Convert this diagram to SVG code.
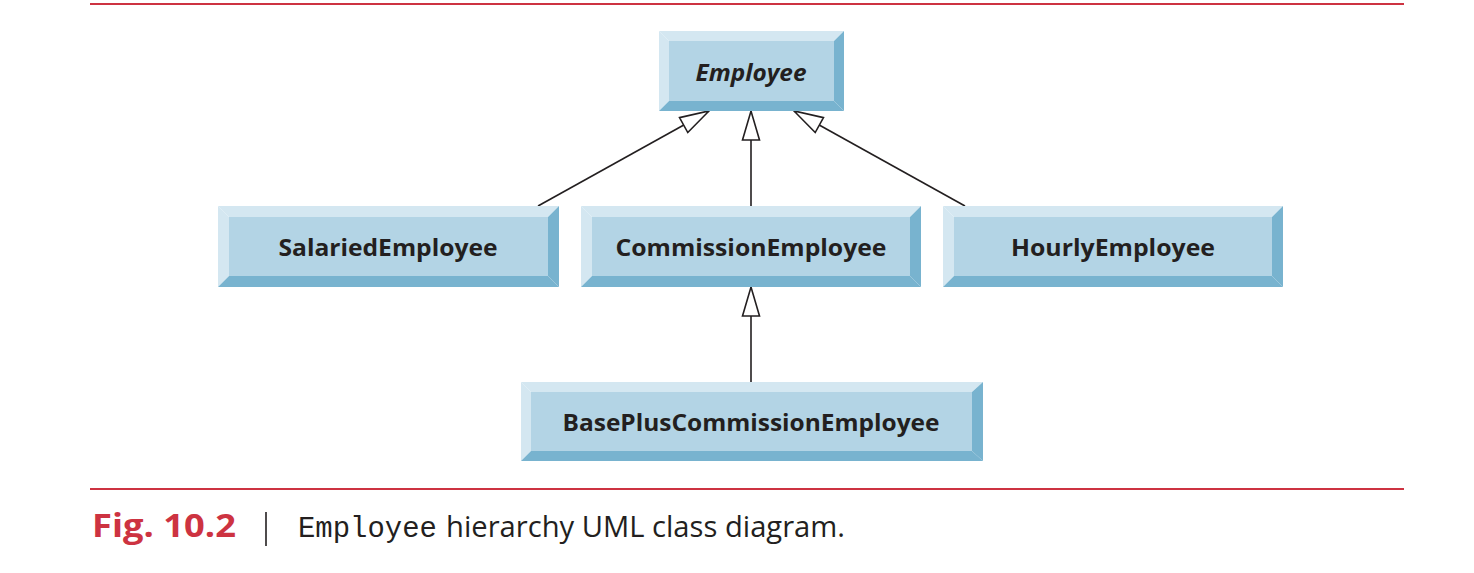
<svg xmlns="http://www.w3.org/2000/svg" width="1474" height="573" viewBox="0 0 1474 573">
<style>
.face{fill:#b3d4e5}
.lt{fill:#d4e7f1}
.dk{fill:#78b3cf}
.lbl{font-family:"Open Sans","Liberation Sans",sans-serif;font-weight:bold;font-size:24px;fill:#231f20;text-anchor:middle}
.conn{stroke:#231f20;stroke-width:1.6;fill:none}
.rule{stroke:#cd3341;stroke-width:2}
</style>
<defs>
<marker id="tri" markerUnits="userSpaceOnUse" markerWidth="34" markerHeight="22" refX="30" refY="10" orient="auto" overflow="visible">
<path d="M1,1.5 L30,10 L1,18.5 Z" fill="#ffffff" stroke="#231f20" stroke-width="1.6" stroke-linejoin="miter"/>
</marker>
</defs>
<rect width="1474" height="573" fill="#ffffff"/>
<line class="rule" x1="90" y1="4" x2="1404" y2="4"/>
<line class="rule" x1="90" y1="489" x2="1404" y2="489"/>

<g id="connectors">
<line class="conn" x1="538" y1="206" x2="709" y2="111" marker-end="url(#tri)"/>
<line class="conn" x1="751" y1="206" x2="751" y2="111" marker-end="url(#tri)"/>
<line class="conn" x1="965" y1="206" x2="794" y2="111" marker-end="url(#tri)"/>
<line class="conn" x1="751" y1="382" x2="751" y2="287" marker-end="url(#tri)"/>
</g>

<g id="employee">
<polygon class="lt" points="659,31 844,31 834,41 669,41"/>
<polygon class="lt" points="659,31 669,41 669,101 659,111"/>
<polygon class="dk" points="844,31 844,111 834,101 834,41"/>
<polygon class="dk" points="659,111 669,101 834,101 844,111"/>
<rect class="face" x="669" y="41" width="165" height="60"/>
<text class="lbl" x="751" y="81" font-style="italic" textLength="111" lengthAdjust="spacingAndGlyphs">Employee</text>
</g>

<g id="salaried">
<polygon class="lt" points="218,206 559,206 548,217 229,217"/>
<polygon class="lt" points="218,206 229,217 229,276 218,287"/>
<polygon class="dk" points="559,206 559,287 548,276 548,217"/>
<polygon class="dk" points="218,287 229,276 548,276 559,287"/>
<rect class="face" x="229" y="217" width="319" height="59"/>
<text class="lbl" x="388" y="256" textLength="219" lengthAdjust="spacingAndGlyphs">SalariedEmployee</text>
</g>

<g id="commission">
<polygon class="lt" points="581,206 921,206 910,217 592,217"/>
<polygon class="lt" points="581,206 592,217 592,276 581,287"/>
<polygon class="dk" points="921,206 921,287 910,276 910,217"/>
<polygon class="dk" points="581,287 592,276 910,276 921,287"/>
<rect class="face" x="592" y="217" width="318" height="59"/>
<text class="lbl" x="751" y="256" textLength="271" lengthAdjust="spacingAndGlyphs">CommissionEmployee</text>
</g>

<g id="hourly">
<polygon class="lt" points="943,206 1283,206 1272,217 954,217"/>
<polygon class="lt" points="943,206 954,217 954,276 943,287"/>
<polygon class="dk" points="1283,206 1283,287 1272,276 1272,217"/>
<polygon class="dk" points="943,287 954,276 1272,276 1283,287"/>
<rect class="face" x="954" y="217" width="318" height="59"/>
<text class="lbl" x="1113" y="256" textLength="204" lengthAdjust="spacingAndGlyphs">HourlyEmployee</text>
</g>

<g id="baseplus">
<polygon class="lt" points="521,382 983,382 972,392 531,392"/>
<polygon class="lt" points="521,382 531,392 531,451 521,461"/>
<polygon class="dk" points="983,382 983,461 972,451 972,392"/>
<polygon class="dk" points="521,461 531,451 972,451 983,461"/>
<rect class="face" x="531" y="392" width="441" height="59"/>
<text class="lbl" x="751" y="431" textLength="377" lengthAdjust="spacingAndGlyphs">BasePlusCommissionEmployee</text>
</g>

<g id="caption">
<text x="92" y="537" font-family="'Open Sans','Liberation Sans',sans-serif" font-weight="bold" font-size="32" fill="#cd3341" textLength="144" lengthAdjust="spacingAndGlyphs">Fig. 10.2</text>
<line x1="266" y1="512" x2="266" y2="546" stroke="#231f20" stroke-width="1.6"/>
<text x="298" y="537" font-family="'Liberation Mono',monospace" font-size="29" fill="#231f20" textLength="139" lengthAdjust="spacingAndGlyphs">Employee</text>
<text x="446" y="537" font-family="'Open Sans','Liberation Sans',sans-serif" font-size="29" fill="#231f20" textLength="399" lengthAdjust="spacingAndGlyphs">hierarchy UML class diagram.</text>
</g>
</svg>
